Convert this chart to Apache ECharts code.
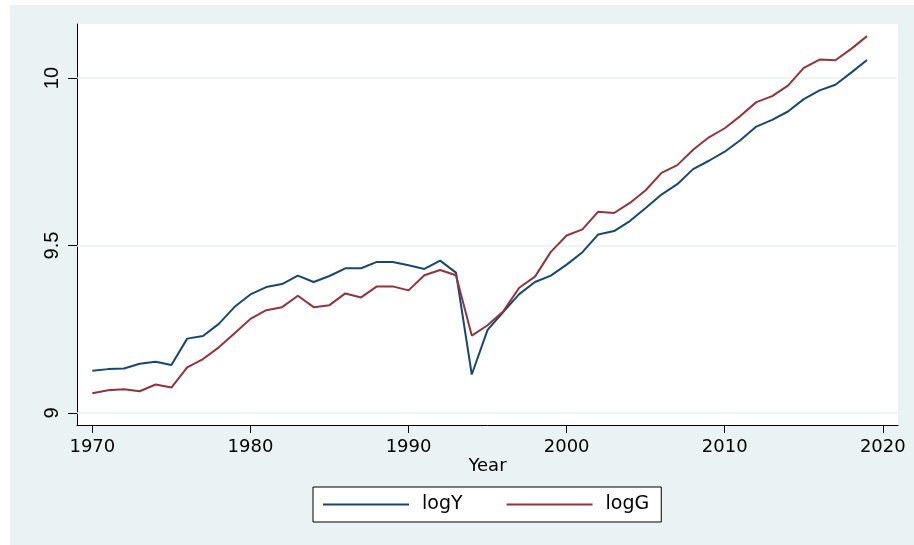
<!DOCTYPE html>
<html>
<head>
<meta charset="utf-8">
<script src="https://cdn.jsdelivr.net/npm/echarts@6/dist/echarts.min.js"></script>
<style>
  html, body { margin: 0; padding: 0; background: #fff; }
  #main { width: 914px; height: 545px; }
</style>
</head>
<body>
<div id="main"></div>
<script>
var years = [];
for (var y = 1970; y <= 2019; y++) years.push(y);

var logY = [
  9.126, 9.131, 9.133, 9.147, 9.153, 9.143, 9.222, 9.230, 9.266, 9.317,
  9.354, 9.376, 9.385, 9.410, 9.391, 9.409, 9.432, 9.432, 9.451, 9.451,
  9.441, 9.430, 9.455, 9.419, 9.115, 9.248, 9.302, 9.355, 9.391, 9.410,
  9.443, 9.480, 9.533, 9.543, 9.573, 9.612, 9.652, 9.683, 9.728, 9.753,
  9.780, 9.815, 9.855, 9.875, 9.900, 9.937, 9.963, 9.980, 10.016, 10.054
];
var logG = [
  9.059, 9.068, 9.071, 9.065, 9.085, 9.076, 9.136, 9.161, 9.196, 9.238,
  9.281, 9.307, 9.316, 9.350, 9.316, 9.322, 9.357, 9.345, 9.378, 9.378,
  9.366, 9.411, 9.427, 9.411, 9.231, 9.262, 9.304, 9.374, 9.407, 9.481,
  9.530, 9.548, 9.601, 9.597, 9.627, 9.665, 9.717, 9.740, 9.786, 9.823,
  9.850, 9.887, 9.928, 9.946, 9.977, 10.030, 10.055, 10.053, 10.087, 10.125
];
var xTicks = [1970, 1980, 1990, 2000, 2010, 2020];
var yTicks = [9, 9.5, 10];

function pairs(vals) {
  return years.map(function (yr, i) { return [yr, vals[i]]; });
}

var myChart = echarts.init(document.getElementById('main'));
var option = {
  backgroundColor: '#eaf2f3',
  animation: false,
  textStyle: { fontFamily: 'DejaVu Sans' },
  graphic: [
    { type: 'rect', shape: { x: 0, y: 0, width: 10, height: 545 }, style: { fill: '#fff' } },
    { type: 'rect', shape: { x: 0, y: 0, width: 914, height: 5 }, style: { fill: '#fff' } }
  ],
  grid: {
    left: 77, top: 24, right: 16, bottom: 120,
    show: true, backgroundColor: '#fff', borderWidth: 0
  },
  legend: {
    data: ['logY', 'logG'],
    left: 313, top: 487,
    icon: 'rect', itemWidth: 86, itemHeight: 2, itemGap: 44,
    padding: [8, 12, 8, 10],
    backgroundColor: '#fff', borderColor: '#000', borderWidth: 1,
    textStyle: { fontFamily: 'DejaVu Sans', fontSize: 19, color: '#000', padding: [0, 0, 0, 8], lineHeight: 18 }
  },
  xAxis: {
    type: 'value',
    min: 1969.03, max: 2020.96,
    name: 'Year', nameLocation: 'middle', nameGap: 32, nameMoveOverlap: false,
    nameTextStyle: { fontFamily: 'DejaVu Sans', fontSize: 18, color: '#000' },
    axisLine: { onZero: false, lineStyle: { color: '#000', width: 1 } },
    axisTick: { customValues: xTicks, length: 8, lineStyle: { color: '#000' } },
    axisLabel: {
      customValues: xTicks, margin: 13, fontFamily: 'DejaVu Sans', fontSize: 18, color: '#000',
      formatter: function (v) { return String(v); }
    },
    splitLine: { show: false }
  },
  yAxis: {
    type: 'value',
    min: 8.9642, max: 10.1612,
    axisLine: { show: true, lineStyle: { color: '#000', width: 1 } },
    axisTick: { show: true, customValues: yTicks, length: 9, lineStyle: { color: '#000' } },
    axisLabel: {
      customValues: yTicks, rotate: 90, margin: 15, fontFamily: 'Liberation Sans', fontSize: 20, color: '#000',
      formatter: function (v) { return String(v); }
    },
    splitLine: { show: false }
  },
  series: [
    {
      name: 'grid', type: 'line', data: [], z: 1, silent: true,
      markLine: {
        z: 1, silent: true, symbol: 'none', label: { show: false },
        lineStyle: { color: '#eaf2f3', type: 'solid', width: 1.5 },
        data: yTicks.map(function (v) { return { yAxis: v }; })
      }
    },
    {
      name: 'logY', type: 'line', data: pairs(logY), showSymbol: false, z: 3,
      color: '#1a476f', lineStyle: { color: '#1a476f', width: 2 }
    },
    {
      name: 'logG', type: 'line', data: pairs(logG), showSymbol: false, z: 3,
      color: '#90353b', lineStyle: { color: '#90353b', width: 2 }
    }
  ]
};
myChart.setOption(option);
</script>
</body>
</html>
